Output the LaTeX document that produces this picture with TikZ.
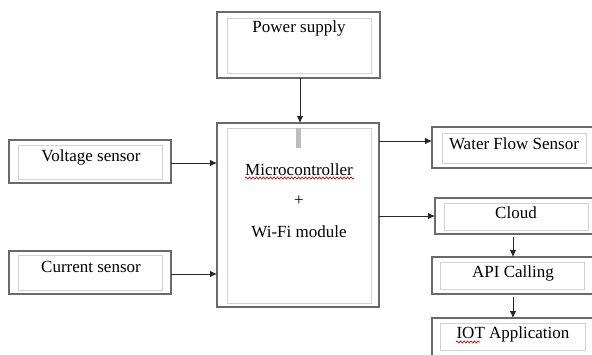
\documentclass[tikz,border=0pt]{standalone}
\usepackage{fontspec}
\setmainfont{Liberation Serif}
\usetikzlibrary{arrows.meta,decorations.pathmorphing}
\definecolor{outerc}{HTML}{6A6A6A}
\definecolor{innerc}{HTML}{D2D2D2}
\definecolor{barc}{HTML}{BDBDBD}
\tikzset{
  outerbox/.style={draw=outerc,line width=1.2pt,fill=white},
  innerbox/.style={draw=innerc,line width=1pt},
  lbl/.style={font=\fontsize{17}{20}\selectfont,inner sep=0pt,anchor=center},
  conn/.style={draw=black!85,line width=0.8pt,-{Latex[length=7pt,width=6.5pt]}},
  spell/.style={draw=red!85!black,line width=0.7pt,decorate,decoration={snake,amplitude=1pt,segment length=3.5pt}}
}
\begin{document}
\begin{tikzpicture}[x=1pt,y=-1pt]
\useasboundingbox (0,0) rectangle (592,354);
\clip (0,0) rectangle (592,354);
% outer boxes
\path[outerbox] (217,12) rectangle (380,78);
\path[outerbox] (217,123) rectangle (379,307);
\path[outerbox] (9,140) rectangle (171,183);
\path[outerbox] (9,251) rectangle (171,294);
\path[outerbox] (432,127) rectangle (600,168);
\path[outerbox] (435,198) rectangle (600,234);
\path[outerbox] (432,257) rectangle (600,294);
\path[outerbox] (432,318) rectangle (600,362);
% inner boxes
\draw[innerbox] (227,18) rectangle (371,73);
\draw[innerbox] (227,128) rectangle (371,303);
\draw[innerbox] (18,145) rectangle (162,179);
\draw[innerbox] (18,255) rectangle (162,290);
\draw[innerbox] (442,133) rectangle (586,163);
\draw[innerbox] (444,203) rectangle (588,230);
\draw[innerbox] (440,262) rectangle (584,289);
\draw[innerbox] (440,323) rectangle (585,350);
\fill[barc] (296,128) rectangle (301,148);
% labels
\node[lbl] (power) at (299,28) {Power supply};
\node[lbl] (mc) at (299,170) {Microcontroller};
\node[lbl] (plus) at (299,201) {+};
\node[lbl] (wifi) at (299,232) {Wi-Fi module};
\node[lbl] (volt) at (91,157) {Voltage sensor};
\node[lbl] (curr) at (91,267) {Current sensor};
\node[lbl] (water) at (514,144) {Water Flow Sensor};
\node[lbl] (cloud) at (516,213) {Cloud};
\node[lbl] (api) at (513,273) {API Calling};
\node[lbl] (iot) at (513,334) {IOT Application};
% spell marks
\path[spell] (245,178) -- (354,178);
\path[spell] (456,342) -- (480,342);
% anchor coordinates
\coordinate (pS) at (300,78);
\coordinate (mN) at (300,123);
\coordinate (vE) at (171,163);
\coordinate (mW1) at (217,163);
\coordinate (cE) at (171,274);
\coordinate (mW2) at (217,274);
\coordinate (mE1) at (379,141);
\coordinate (wW) at (432,141);
\coordinate (mE2) at (379,216);
\coordinate (clW) at (435,216);
\coordinate (clS) at (513,237);
\coordinate (apN) at (513,257);
\coordinate (apS) at (513,297);
\coordinate (ioN) at (513,318);
% connectors
\draw[conn] (pS) -- (mN);
\draw[conn] (vE) -- (mW1);
\draw[conn] (cE) -- (mW2);
\draw[conn] (mE1) -- (wW);
\draw[conn] (mE2) -- (clW);
\draw[conn] (clS) -- (apN);
\draw[conn] (apS) -- (ioN);
\end{tikzpicture}
\end{document}
